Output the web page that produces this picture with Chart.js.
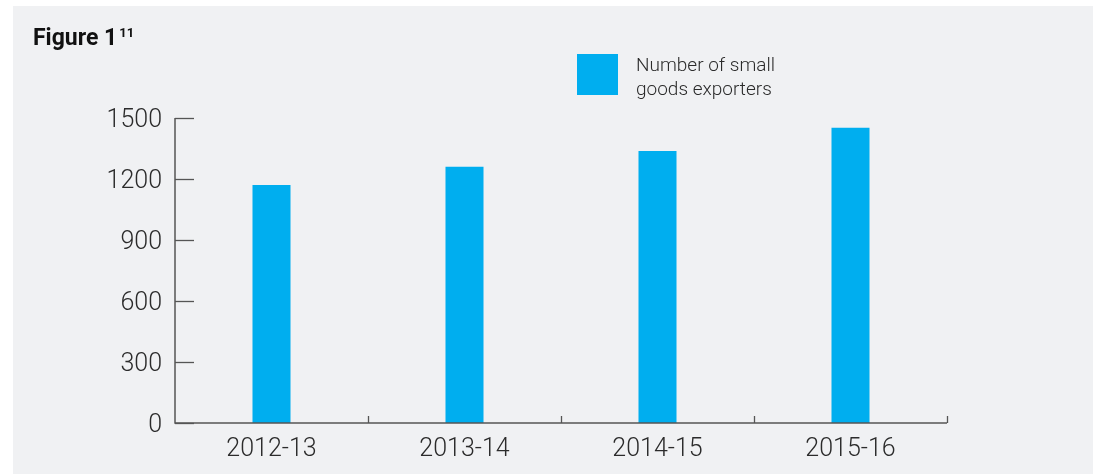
<!DOCTYPE html>
<html>
<head>
<meta charset="utf-8">
<script src="https://cdn.jsdelivr.net/npm/chart.js@4.4.1/dist/chart.umd.min.js"></script>
<style>
html,body{margin:0;padding:0;background:#ffffff;}
#wrap{position:relative;width:1098px;height:474px;}
canvas{display:block;}
</style>
</head>
<body>
<div id="wrap"><canvas id="c" width="1098" height="474"></canvas></div>
<script>
const categories = ["2012-13", "2013-14", "2014-15", "2015-16"];
const smallGoodsExporters = [1170, 1260, 1338, 1452];
const yTicks = [0, 300, 600, 900, 1200, 1500];
const seriesLabel = ["Number of small", "goods exporters"];
const titleText = "Figure 1";
const titleSup = "11";

const AXIS = "#555555";
const TEXT = "#2b2b2b";
const BAR = "#00aeef";
const FONT = "Roboto";

const decor = {
  id: "decor",
  beforeDraw(chart) {
    const ctx = chart.ctx;
    ctx.save();
    ctx.fillStyle = "#ffffff";
    ctx.fillRect(0, 0, chart.width, chart.height);
    ctx.fillStyle = "#f0f1f3";
    ctx.fillRect(13, 6, 1080, 468);
    ctx.restore();
  },
  afterDraw(chart) {
    const ctx = chart.ctx;
    const x = chart.scales.x, y = chart.scales.y;
    const area = chart.chartArea;
    ctx.save();
    ctx.strokeStyle = AXIS;
    ctx.lineWidth = 1.5;
    ctx.beginPath();
    ctx.moveTo(area.left, area.top);
    ctx.lineTo(area.left, area.bottom);
    ctx.lineTo(area.right, area.bottom);
    ctx.stroke();
    ctx.lineWidth = 1.3;
    y.ticks.forEach(t => {
      const py = Math.round(y.getPixelForValue(t.value)) + 0.5;
      ctx.beginPath();
      ctx.moveTo(area.left, py);
      ctx.lineTo(area.left + 19, py);
      ctx.stroke();
    });
    const step = x.getPixelForValue(1) - x.getPixelForValue(0);
    for (let i = 0; i < categories.length; i++) {
      const px = Math.round(x.getPixelForValue(i) + step / 2) + 0.5;
      ctx.beginPath();
      ctx.moveTo(px, area.bottom);
      ctx.lineTo(px, area.bottom - 7);
      ctx.stroke();
    }
    ctx.fillStyle = "#111111";
    ctx.textBaseline = "alphabetic";
    ctx.textAlign = "left";
    ctx.font = "bold 23px " + FONT;
    ctx.fillText(titleText, 33, 45);
    const w = ctx.measureText(titleText).width;
    ctx.font = "bold 13px " + FONT;
    ctx.fillText(titleSup, 33 + w + 2, 37);
    ctx.fillStyle = BAR;
    ctx.fillRect(577, 54, 41, 41);
    ctx.fillStyle = TEXT;
    ctx.font = "300 19px " + FONT;
    ctx.fillText(seriesLabel[0], 636, 71);
    ctx.fillText(seriesLabel[1], 636, 95);
    ctx.restore();
  }
};

new Chart(document.getElementById("c"), {
  type: "bar",
  data: {
    labels: categories,
    datasets: [{
      label: seriesLabel.join(" "),
      data: smallGoodsExporters,
      backgroundColor: BAR,
      borderWidth: 0,
      barPercentage: 0.197,
      categoryPercentage: 1.0
    }]
  },
  options: {
    responsive: false,
    animation: false,
    devicePixelRatio: 1,
    layout: { padding: { left: 0, right: 151, top: 118, bottom: 0 } },
    plugins: { legend: { display: false }, title: { display: false }, tooltip: { enabled: false } },
    scales: {
      x: {
        offset: true,
        grid: { display: false, drawTicks: false },
        border: { display: false },
        ticks: { color: TEXT, font: { family: FONT, size: 25, weight: "300" }, padding: 12, maxRotation: 0 },
        afterFit(s) { s.height = 51; }
      },
      y: {
        min: 0, max: 1500,
        afterBuildTicks(s) { s.ticks = yTicks.map(v => ({ value: v })); },
        grid: { display: false, drawTicks: false },
        border: { display: false },
        ticks: {
          color: TEXT, font: { family: FONT, size: 25, weight: "300" }, padding: 13, labelOffset: 3,
          callback: (v) => String(v)
        },
        afterFit(s) { s.width = 175; }
      }
    }
  },
  plugins: [decor]
});
</script>
</body>
</html>
